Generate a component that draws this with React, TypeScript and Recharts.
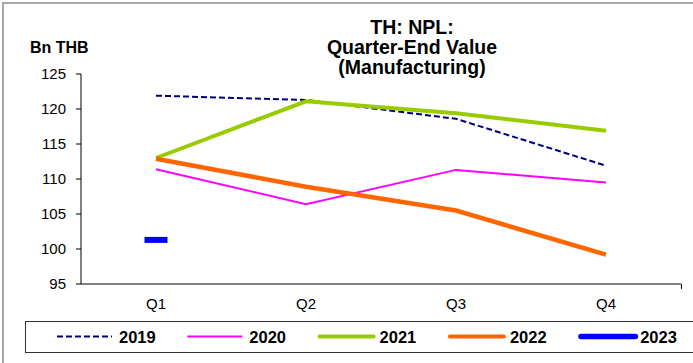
import React from 'react';
import { LineChart, Line, XAxis, YAxis } from 'recharts';

const quarters = ['Q1', 'Q2', 'Q3', 'Q4'];
const s2019 = [121.9, 121.3, 118.6, 111.9];
const s2020 = [111.4, 106.4, 111.3, 109.5];
const s2021 = [113.0, 121.1, 119.4, 116.9];
const s2022 = [112.9, 108.9, 105.5, 99.2];
const s2023: (number | null)[] = [101.3, null, null, null];
const yTicks = [95, 100, 105, 110, 115, 120, 125];
const titleLines = ['TH: NPL:', 'Quarter-End Value', '(Manufacturing)'];
const unitLabel = 'Bn THB';

const seriesNames = ['2019', '2020', '2021', '2022', '2023'];
const seriesColors = ['#000080', '#FF00FF', '#99CC00', '#FF6600', '#0000FF'];

const data = quarters.map((q, i) => ({
  q,
  y2019: s2019[i],
  y2020: s2020[i],
  y2021: s2021[i],
  y2022: s2022[i],
  y2023: s2023[i],
}));

const FONT = '"Liberation Sans", Arial, sans-serif';

const DashDot = (props: any) => {
  const { cx, cy, value } = props;
  if (value == null || cx == null || cy == null) return null;
  return <rect x={cx - 11.5} y={cy - 3} width={23} height={6} fill="#0000FF" />;
};

const legendStyle = [
  { w: 2, dash: '6 3', cap: 'butt', len: 55 },
  { w: 2, dash: undefined, cap: 'butt', len: 55 },
  { w: 4, dash: undefined, cap: 'round', len: 58 },
  { w: 4, dash: undefined, cap: 'round', len: 58 },
  { w: 5.5, dash: undefined, cap: 'round', len: 60 },
];

export default function App() {
  return (
    <div style={{ position: 'absolute', left: 0, top: 0, width: 693, height: 363, background: '#fff', fontFamily: FONT, overflow: 'hidden' }}>
      <LineChart
        width={693}
        height={363}
        data={data}
        margin={{ top: 74, right: 12, left: 0, bottom: 49 }}
      >
        <XAxis
          dataKey="q"
          axisLine={{ stroke: '#000', strokeWidth: 1 }}
          tickLine={false}
          tickSize={0}
          tickMargin={14}
          height={30}
          padding={{ left: 75, right: 75 }}
          tick={{ fill: '#000', fontSize: 15, fontFamily: FONT }}
          interval={0}
        />
        <YAxis
          domain={[95, 125]}
          ticks={yTicks}
          width={81}
          axisLine={{ stroke: '#000', strokeWidth: 1 }}
          tickLine={{ stroke: '#000', strokeWidth: 1 }}
          tickSize={5}
          tickMargin={10}
          tick={{ fill: '#000', fontSize: 15, fontFamily: FONT }}
          allowDataOverflow
        />
        <Line dataKey="y2019" stroke={seriesColors[0]} strokeWidth={2} strokeDasharray="6 3" dot={false} isAnimationActive={false} type="linear" />
        <Line dataKey="y2020" stroke={seriesColors[1]} strokeWidth={2} dot={false} isAnimationActive={false} type="linear" />
        <Line dataKey="y2021" stroke={seriesColors[2]} strokeWidth={4} dot={false} isAnimationActive={false} type="linear" />
        <Line dataKey="y2022" stroke={seriesColors[3]} strokeWidth={4.5} dot={false} isAnimationActive={false} type="linear" />
        <Line dataKey="y2023" stroke="none" dot={<DashDot />} activeDot={false} isAnimationActive={false} type="linear" connectNulls={false} />
      </LineChart>
      <svg width={693} height={363} style={{ position: 'absolute', left: 0, top: 0, pointerEvents: 'none' }}>
        <line x1={3} y1={2} x2={3} y2={363} stroke="#a8a8a8" strokeWidth={2} />
        <line x1={2} y1={3} x2={693} y2={3} stroke="#a8a8a8" strokeWidth={2} />
        <line x1={681.5} y1={284} x2={681.5} y2={289} stroke="#000" strokeWidth={1} />
        {titleLines.map((t, i) => (
          <text key={t} x={412} y={33.5 + i * 20} textAnchor="middle" fontFamily={FONT} fontWeight="bold" fontSize={19.5} fill="#000">{t}</text>
        ))}
        <text x={30} y={53} fontFamily={FONT} fontWeight="bold" fontSize={16} fill="#000">{unitLabel}</text>
        <rect x={25.5} y={321.5} width={700} height={31} fill="#fff" stroke="#333" strokeWidth={1} />
        {seriesNames.map((n, i) => {
          const x0 = 57 + i * 130.3;
          const st = legendStyle[i];
          const inset = st.cap === 'round' ? st.w / 2 : 0;
          return (
            <g key={n}>
              <line x1={x0 + inset} y1={336.5} x2={x0 + st.len - inset} y2={336.5} stroke={seriesColors[i]} strokeWidth={st.w} strokeDasharray={st.dash} strokeLinecap={st.cap as any} />
              <text x={x0 + 62} y={343} fontFamily={FONT} fontWeight="bold" fontSize={16.5} fill="#000">{n}</text>
            </g>
          );
        })}
      </svg>
    </div>
  );
}
